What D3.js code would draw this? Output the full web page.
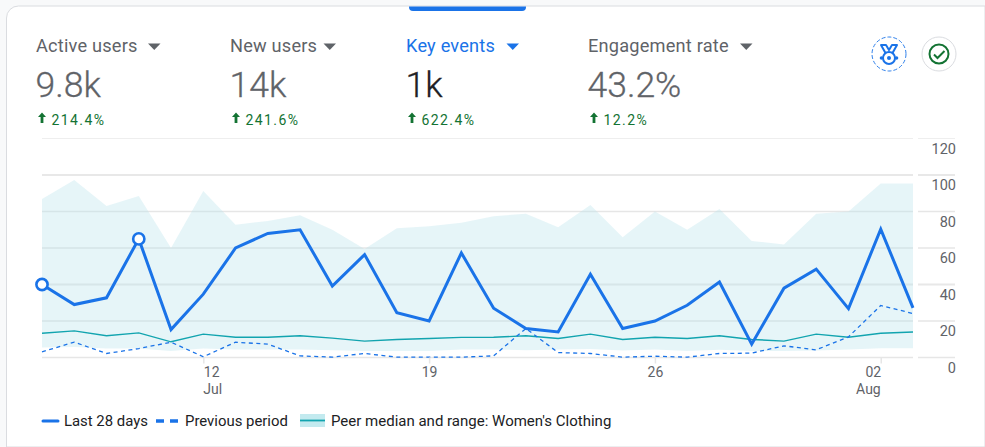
<!DOCTYPE html>
<html><head><meta charset="utf-8">
<script src="https://cdn.jsdelivr.net/npm/d3@7"></script>
<style>
html,body{margin:0;padding:0;background:#f8f9fa;overflow:hidden}
svg{display:block;font-family:Roboto,sans-serif}
</style></head><body><svg id="c" width="985" height="447"></svg>
<script>
const days=d3.range(0,28).map(i=>new Date(2024,6,7+i));
const current=[40,29,32.7,65,15.3,34.7,60,68,70,39.2,56.4,24.5,20,57.3,27,15.9,14,45.6,15.9,20,28.6,41.4,7.3,38,48.4,26.8,70.3,27.2];
const previous=[3.1,8.4,2.2,4.9,8.4,0.4,8.4,7.3,0.9,0.2,2.2,0.2,0.2,0.2,0.9,15.9,2.7,2.2,0.2,0.7,0.2,2.2,2.4,6.4,4.2,11.3,28.5,24.1];
const peerMedian=[13.3,14.6,11.9,13.5,8.6,12.8,11.1,11.1,11.9,10.6,9,9.9,10.4,11,11.1,11.9,10.4,12.8,9.9,11.1,10.4,11.9,9.9,9,12.8,11.1,13.3,14];
const peerHigh=[86.9,97.3,83,88.5,60,91.2,72.8,74.8,78,70,59.5,70.8,71.9,73.9,77.4,78.8,71.4,83.6,65.9,80,70,81.4,63.9,61.9,78.8,80,95.4,95.4];
const peerLow=[5.5,5.8,4.9,4.9,3.6,4.9,4.4,4.4,4.4,4,3.6,3.6,3.6,4.4,4.4,4,4.4,4.7,3.8,4.4,3.6,4.2,3.6,3.6,3.8,4.4,5.1,5.1];
const yTicks=[0,20,40,60,80,100,120];
const xTickDays=[new Date(2024,6,12),new Date(2024,6,19),new Date(2024,6,26),new Date(2024,7,2)];
const xTickLabels=["12","19","26","02"];
const xTickMonths=["Jul","","","Aug"];
const xTickAnchors=["start","middle","middle","end"];
const markerIdx=[0,3];
const metricNames=["Active users","New users","Key events","Engagement rate"];
const metricValues=["9.8k","14k","1k","43.2%"];
const metricDeltas=["214.4%","241.6%","622.4%","12.2%"];
const legendLabels=["Last 28 days","Previous period","Peer median and range: Women's Clothing"];

const BLUE="#1a73e8",GREY="#5f6368",GREEN="#137333",TEAL="#12a4af";
const svg=d3.select("#c");
// card
svg.append("path").attr("d","M6.5 447V18a12 12 0 0 1 12-12H985V447Z").attr("fill","#fff").attr("stroke","#dadce0");
svg.append("path").attr("d","M409 6.5H526V7a4 4 0 0 1-4 4H413a4 4 0 0 1-4-4Z").attr("fill",BLUE);

const x=d3.scaleTime().domain([days[0],days[27]]).range([42,913]);
const y=d3.scaleLinear().domain([0,120]).range([357.5,138.5]);

// header
const hx=[36,230,406,588], arrowX=[42,236,412,594];
const widths=[103.5,85,92,143.5];
metricNames.forEach((n,i)=>{
  const g=svg.append("g"), c=i==2?BLUE:GREY;
  g.append("text").attr("x",hx[i]).attr("y",52).attr("font-size",18.2).attr("letter-spacing",".2").attr("fill",c).text(n);
  const ax=hx[i]+widths[i]+8.5;
  g.append("path").attr("d",`M${ax} 43.5h12.5l-6.25 6.5Z`).attr("fill",c);
  g.append("text").attr("x",hx[i]-.5).attr("y",96.5).attr("font-size",35.5).attr("font-weight",300)
    .attr("fill",i==2?"#202124":GREY).attr("stroke",i==2?"#202124":GREY).attr("stroke-width",.3).text(metricValues[i]);
  const a=arrowX[i];
  g.append("path").attr("d",`M${a} 112.5l4 4.5h-2.6v6h-2.8v-6h-2.6Z`).attr("fill",GREEN);
  g.append("text").attr("x",a+9.5).attr("y",125).attr("font-size",14).attr("letter-spacing","1.4").attr("fill",GREEN).text(metricDeltas[i]);
});

// icons
svg.append("circle").attr("cx",889).attr("cy",54).attr("r",17).attr("fill","#fff").attr("stroke",BLUE).attr("stroke-width",.9).attr("stroke-dasharray","4 2");
const med=svg.append("g").attr("fill","none").attr("stroke",BLUE);
med.append("path").attr("d","M881 45h5l3 5 3-5h5l-4.5 8h-7Z").attr("stroke-width",2).attr("stroke-linejoin","round");
med.append("circle").attr("cx",881.5).attr("cy",58).attr("r",1.8).attr("fill",BLUE).attr("stroke","none");
med.append("circle").attr("cx",896.5).attr("cy",58).attr("r",1.8).attr("fill",BLUE).attr("stroke","none");
med.append("circle").attr("cx",889).attr("cy",58).attr("r",6).attr("fill","#fff").attr("stroke-width",2);
med.append("circle").attr("cx",889).attr("cy",58).attr("r",2).attr("fill",BLUE).attr("stroke","none");
svg.append("circle").attr("cx",939).attr("cy",54).attr("r",17).attr("fill","#fff").attr("stroke","#dadce0");
svg.append("circle").attr("cx",939).attr("cy",54).attr("r",9.5).attr("fill","none").attr("stroke",GREEN).attr("stroke-width",2);
svg.append("path").attr("d","M934 54.5l3.5 3.5 7-7").attr("fill","none").attr("stroke",GREEN).attr("stroke-width",2);

// grid
const grid=svg.append("g");
yTicks.forEach(t=>{
  const sw=(t==100||t==40)?2:1.3, col=t==120?"#eeeeee":(t==100||t==40?"#e8e8e8":"#e6e6e6");
  [[42,913],[918,955]].forEach(([a,b])=>grid.append("line").attr("x1",a).attr("x2",b).attr("y1",y(t)).attr("y2",y(t)).attr("stroke",col).attr("stroke-width",t==120?1:sw));
});

// band, lines
svg.append("path").datum(days).attr("fill","#b7e3ea").attr("fill-opacity",.35)
  .attr("d",d3.area().x(d=>x(d)).y0((d,i)=>y(peerLow[i])).y1((d,i)=>y(peerHigh[i])));
const ln=a=>d3.line().x(d=>x(d)).y((d,i)=>y(a[i]))(days);
svg.append("path").attr("d",ln(peerMedian)).attr("fill","none").attr("stroke",TEAL).attr("stroke-width",1.4);
svg.append("path").attr("d",ln(previous)).attr("fill","none").attr("stroke",BLUE).attr("stroke-width",1.3).attr("stroke-dasharray","4 3.5");
svg.append("path").attr("d",ln(current)).attr("fill","none").attr("stroke",BLUE).attr("stroke-width",3).attr("stroke-linejoin","miter");
markerIdx.forEach(i=>svg.append("circle").attr("cx",x(days[i])).attr("cy",y(current[i])).attr("r",5.6).attr("fill","#fff").attr("stroke",BLUE).attr("stroke-width",2.6));

// y axis
const yAxis=svg.append("g").attr("transform","translate(956,0)").call(d3.axisLeft(y).tickValues(yTicks).tickSize(0).tickPadding(0));
yAxis.select(".domain").remove();
yAxis.selectAll("text").attr("dy",14.5).attr("font-family","Roboto").attr("font-size",14.5).attr("fill",GREY);

// x axis
const xAxis=svg.append("g").attr("transform","translate(0,357.5)").call(d3.axisBottom(x).tickValues(xTickDays).tickSize(6).tickPadding(0).tickFormat((d,i)=>xTickLabels[i]));
xAxis.select(".domain").remove();
xAxis.selectAll("line").attr("stroke","#e6e6e6").attr("stroke-width",1.5);
xAxis.selectAll("text").attr("y",0).attr("dy",19.5).attr("font-family","Roboto").attr("font-size",14).attr("fill",GREY).attr("text-anchor",(d,i)=>xTickAnchors[i]);
xTickMonths.forEach((m,i)=>{ if(m) svg.append("text").attr("x",x(xTickDays[i])).attr("y",393.5).attr("text-anchor",xTickAnchors[i]).attr("font-size",14).attr("fill",GREY).text(m); });

// legend
const ly=421, lc="#202124";
svg.append("line").attr("x1",43).attr("x2",58).attr("y1",ly).attr("y2",ly).attr("stroke",BLUE).attr("stroke-width",3).attr("stroke-linecap","round");
svg.append("text").attr("x",64).attr("y",ly+5).attr("font-size",14.9).attr("fill",lc).text(legendLabels[0]);
svg.append("line").attr("x1",156).attr("x2",178).attr("y1",ly).attr("y2",ly).attr("stroke",BLUE).attr("stroke-width",3.5).attr("stroke-dasharray","8 6");
svg.append("text").attr("x",185).attr("y",ly+5).attr("font-size",14.9).attr("fill",lc).text(legendLabels[1]);
svg.append("rect").attr("x",300).attr("y",414).attr("width",25).attr("height",13).attr("fill","#c3eaef");
svg.append("line").attr("x1",300).attr("x2",325).attr("y1",ly-.5).attr("y2",ly-.5).attr("stroke",TEAL).attr("stroke-width",1.8);
svg.append("text").attr("x",331).attr("y",ly+5).attr("font-size",15).attr("fill",lc).text(legendLabels[2]);
</script></body></html>
